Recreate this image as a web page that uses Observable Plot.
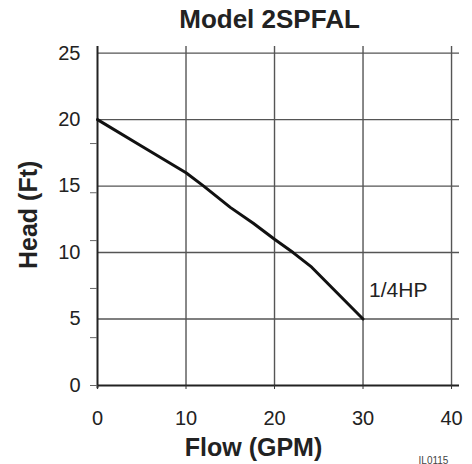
<!DOCTYPE html>
<html>
<head>
<meta charset="utf-8">
<script src="https://cdn.jsdelivr.net/npm/d3@7"></script>
<script src="https://cdn.jsdelivr.net/npm/@observablehq/plot@0.6"></script>
<style>
  html, body { margin: 0; padding: 0; background: #fff; }
  #chart svg { display: block; }
</style>
</head>
<body>
<div id="chart"></div>
<script>
// Pump curve data (Flow GPM vs Head Ft)
const flow = [0, 5, 10, 12, 15, 17.6, 20, 22.1, 24.2, 30];
const head = [20, 18, 16, 15, 13.4, 12.2, 11, 10, 8.9, 5];
const xTicks = [0, 10, 20, 30, 40];
const yTicks = [0, 5, 10, 15, 20, 25];
const yMinorTicks = [0, 3.6, 7.3, 10.9, 14.5, 18.2];
const title = "Model 2SPFAL";
const xLabel = "Flow (GPM)";
const yLabel = "Head (Ft)";
const seriesLabel = "1/4HP";
const code = "IL0115";

const curve = flow.map((x, i) => ({x, y: head[i]}));
const last = curve[curve.length - 1];

const font = "'Liberation Sans', Arial, Helvetica, sans-serif";

const chart = Plot.plot({
  width: 472,
  height: 464,
  marginLeft: 97,
  marginRight: 13,
  marginTop: 46,
  marginBottom: 79,
  style: {fontFamily: font, background: "#fff", color: "#222"},
  x: {domain: [0, 40.9], axis: null},
  y: {domain: [0, 25.5], axis: null},
  marks: [
    // grid
    Plot.ruleY(yTicks.filter(d => d > 0), {x1: 0, x2: 40.9, stroke: "#555", strokeWidth: 1.4}),
    Plot.ruleX(xTicks.filter(d => d > 0), {y1: 0, y2: 25.5, stroke: "#555", strokeWidth: 1.4}),
    // axes lines
    Plot.ruleY([0], {x1: 0, x2: 40.9, stroke: "#222", strokeWidth: 2}),
    Plot.ruleX([0], {y1: -0.25, y2: 25.5, stroke: "#222", strokeWidth: 2}),
    // x ticks and labels
    Plot.axisX({ticks: xTicks, label: null, tickSize: 4, tickPadding: 21, fontSize: 20, tickFormat: d => d, stroke: "#333", color: "#222", anchor: "bottom"}),
    // y labels
    Plot.axisY({ticks: yTicks, label: null, tickSize: 0, tickPadding: 17, fontSize: 20, tickFormat: d => d, color: "#222", anchor: "left"}),
    // y minor ticks
    Plot.axisY({ticks: yMinorTicks, label: null, tickSize: 7, tickFormat: () => "", stroke: "#666", anchor: "left"}),
    // curve
    Plot.line(curve, {x: "x", y: "y", stroke: "#111", strokeWidth: 3, strokeLinejoin: "round"}),
    // series label
    Plot.text([seriesLabel], {x: last.x, y: last.y, text: d => d, textAnchor: "start", lineAnchor: "bottom", dx: 6, dy: -22, fontSize: 21, fill: "#222"}),
    // title
    Plot.text([title], {frameAnchor: "top", text: d => d, lineAnchor: "bottom", dy: -19, dx: -9, fontSize: 26, fontWeight: "bold", fill: "#222"}),
    // x label
    Plot.text([xLabel], {frameAnchor: "bottom", text: d => d, lineAnchor: "bottom", dy: 70, dx: -25, fontSize: 25, fontWeight: "bold", fill: "#222"}),
    // y label
    Plot.text([yLabel], {frameAnchor: "left", text: d => d, rotate: -90, dx: -69, dy: 53, fontSize: 25, fontWeight: "bold", fill: "#222"}),
    // code
    Plot.text([code], {frameAnchor: "bottom-right", text: d => d, lineAnchor: "bottom", textAnchor: "middle", dx: -26, dy: 78, fontSize: 10, fill: "#444"})
  ]
});
document.getElementById("chart").appendChild(chart);
</script>
</body>
</html>
